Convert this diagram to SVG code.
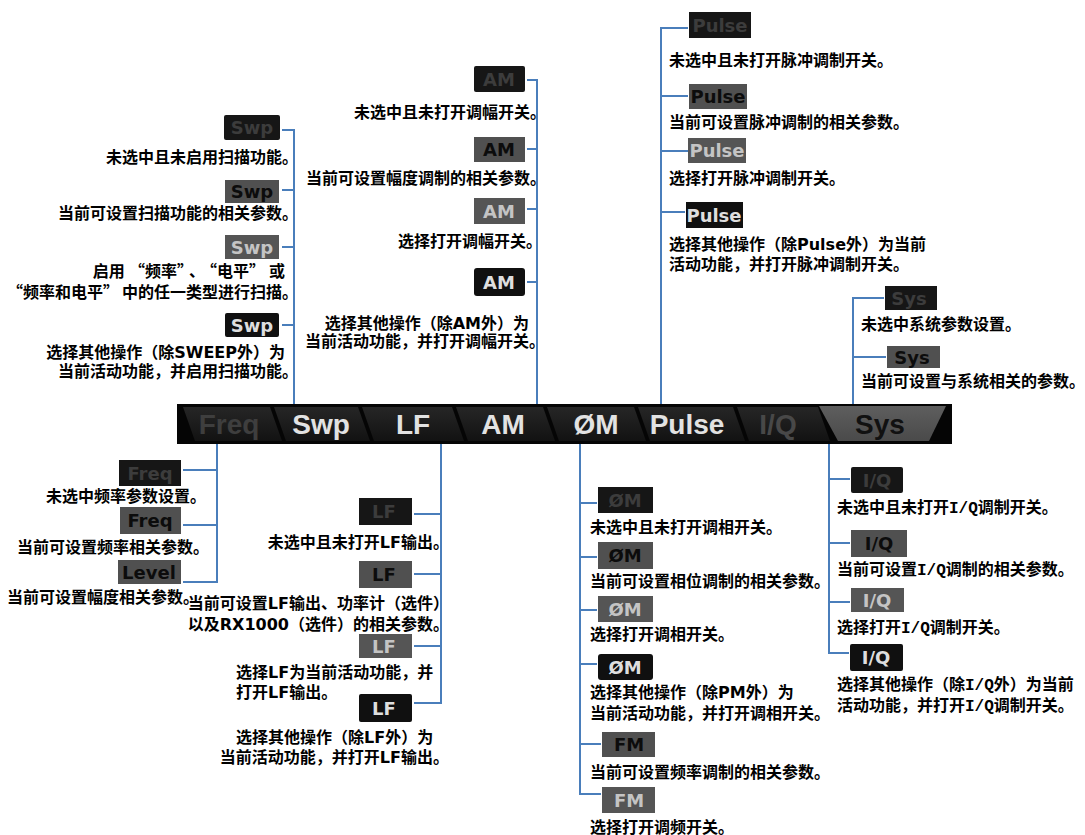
<svg xmlns="http://www.w3.org/2000/svg" width="1085" height="835" viewBox="0 0 1085 835">
<defs>
<linearGradient id="tabg" x1="0" y1="0" x2="0" y2="1">
<stop offset="0" stop-color="#262626"/><stop offset="1" stop-color="#121212"/>
</linearGradient>
<linearGradient id="sysg" x1="0" y1="0" x2="0" y2="1">
<stop offset="0" stop-color="#5e5e5e"/><stop offset="1" stop-color="#4a4a4a"/>
</linearGradient>
<style>
.ln{stroke:#4a7ebb;stroke-width:2;fill:none}
.t{font-family:"DejaVu Sans","Noto Sans CJK SC",sans-serif;font-weight:bold;font-size:16px;fill:#000}
.e{text-anchor:end}
.q{font-family:"Noto Sans CJK SC",sans-serif}
.m{font-family:"Liberation Mono","Noto Sans CJK SC",monospace}
.bl{font-family:"DejaVu Sans",sans-serif;font-weight:bold;font-size:18px;text-anchor:middle}
.r0{fill:#161616}.x0{fill:#3c3c3c}
.r1{fill:#505050}.x1{fill:#0c0c0c}
.r2{fill:#555555}.x2{fill:#c4c4c4}
.r3{fill:#101010}.x3{fill:#dedede}
.tab{fill:url(#tabg)}
.tl{font-family:"Liberation Sans",Arial,sans-serif;font-weight:bold;font-size:28px;text-anchor:middle}
</style>
</defs>
<rect width="1085" height="835" fill="#ffffff"/>

<g id="connectors">
<path class="ln" d="M282,130 H294 V404 M282,190 H294 M282,247 H294 M282,325 H294"/>
<path class="ln" d="M527,80 H537 V404 M527,149 H537 M527,209 H537 M527,282 H537"/>
<path class="ln" d="M688,28 H661 V404 M661,96 H688 M661,151 H688 M661,212 H685"/>
<path class="ln" d="M884,298 H853 V404 M853,357 H886"/>
<path class="ln" d="M217,444 V582 H183 M183,470 H217 M183,525 H217"/>
<path class="ln" d="M441,444 V703 H414 M414,514 H441 M414,574 H441 M414,646 H441"/>
<path class="ln" d="M580,444 V794 H601 M580,503 H597 M580,557 H597 M580,610 H597 M580,664 H597 M580,744 H601"/>
<path class="ln" d="M829,444 V653 H849 M829,479 H850 M829,543 H850 M829,602 H850"/>
</g>

<g id="menubar">
<rect x="177" y="404" width="775" height="40" fill="#050505"/>
<path class="tab" d="M183,407 H270 L282,441 H195 Z"/>
<path class="tab" d="M274,407 H358 L370,441 H286 Z"/>
<path class="tab" d="M362,407 H452 L464,441 H374 Z"/>
<path class="tab" d="M456,407 H543 L555,441 H468 Z"/>
<path class="tab" d="M547,407 H634 L646,441 H559 Z"/>
<path class="tab" d="M638,407 H733 L745,441 H650 Z"/>
<path class="tab" d="M737,407 H818 L830,441 H749 Z"/>
<path d="M819,406 H946 L929,441 H838 Z" fill="url(#sysg)"/>
<text class="tl" x="229" y="434" fill="#3e3e3e">Freq</text>
<text class="tl" x="321" y="434" fill="#e2e2e2">Swp</text>
<text class="tl" x="413" y="434" fill="#e2e2e2">LF</text>
<text class="tl" x="503" y="434" fill="#e2e2e2">AM</text>
<text class="tl" x="596" y="434" fill="#e2e2e2">ØM</text>
<text class="tl" x="687" y="434" fill="#e2e2e2">Pulse</text>
<text class="tl" x="778" y="434" fill="#484848">I/Q</text>
<text class="tl" x="880" y="434" fill="#111111">Sys</text>
</g>

<!-- Swp -->
<g id="swp-1"><rect class="r0" x="224" y="115" width="56" height="25" rx="2"/><text class="bl x0" x="252" y="134">Swp</text>
<text class="t e" x="298" y="163">未选中且未启用扫描功能。</text></g>
<g id="swp-2"><rect class="r1" x="225" y="180" width="54" height="23"/><text class="bl x1" x="252" y="198">Swp</text>
<text class="t e" x="298" y="219">当前可设置扫描功能的相关参数。</text></g>
<g id="swp-3"><rect class="r2" x="225" y="235" width="54" height="24"/><text class="bl x2" x="252" y="254">Swp</text>
<text class="t e" x="285" y="277">启用<tspan class="q" dx="4">“</tspan>频率<tspan class="q">”</tspan><tspan dx="4">、</tspan><tspan class="q" dx="4">“</tspan>电平<tspan class="q">”</tspan><tspan dx="4">或</tspan></text>
<text class="t e" x="298" y="298"><tspan class="q">“</tspan>频率和电平<tspan class="q">”</tspan><tspan dx="3">中的任一类型进行扫描。</tspan></text></g>
<g id="swp-4"><rect class="r3" x="225" y="313" width="54" height="24" rx="2"/><text class="bl x3" x="252" y="332">Swp</text>
<text class="t e" x="285" y="358">选择其他操作（除SWEEP外）为</text>
<text class="t e" x="298" y="377">当前活动功能，并启用扫描功能。</text></g>

<!-- AM -->
<g id="am-1"><rect class="r0" x="474" y="66" width="51" height="26" rx="2"/><text class="bl x0" x="499" y="86">AM</text>
<text class="t e" x="546" y="118">未选中且未打开调幅开关。</text></g>
<g id="am-2"><rect class="r1" x="474" y="137" width="51" height="25"/><text class="bl x1" x="499" y="156">AM</text>
<text class="t e" x="546" y="184">当前可设置幅度调制的相关参数。</text></g>
<g id="am-3"><rect class="r2" x="474" y="198" width="51" height="26"/><text class="bl x2" x="499" y="218">AM</text>
<text class="t e" x="542" y="247">选择打开调幅开关。</text></g>
<g id="am-4"><rect class="r3" x="474" y="268" width="51" height="28" rx="3"/><text class="bl x3" x="499" y="289">AM</text>
<text class="t e" x="529" y="329">选择其他操作（除AM外）为</text>
<text class="t e" x="545" y="347">当前活动功能，并打开调幅开关。</text></g>

<!-- Pulse -->
<g id="pulse-1"><rect class="r0" x="689" y="12" width="62" height="26"/><text class="bl x0" x="720" y="32">Pulse</text>
<text class="t" x="669" y="66">未选中且未打开脉冲调制开关。</text></g>
<g id="pulse-2"><rect class="r1" x="689" y="84" width="58" height="25"/><text class="bl x1" x="718" y="103">Pulse</text>
<text class="t" x="669" y="128">当前可设置脉冲调制的相关参数。</text></g>
<g id="pulse-3"><rect class="r2" x="688" y="138" width="58" height="25"/><text class="bl x2" x="717" y="157">Pulse</text>
<text class="t" x="669" y="184">选择打开脉冲调制开关。</text></g>
<g id="pulse-4"><rect class="r3" x="686" y="202" width="57" height="26"/><text class="bl x3" x="714" y="222">Pulse</text>
<text class="t" x="669" y="250">选择其他操作（除Pulse外）为当前</text>
<text class="t" x="669" y="270">活动功能，并打开脉冲调制开关。</text></g>

<!-- Sys -->
<g id="sys-1"><rect class="r0" x="885" y="286" width="52" height="24"/><text class="bl x0" x="909" y="305">Sys</text>
<text class="t" x="861" y="330">未选中系统参数设置。</text></g>
<g id="sys-2"><rect class="r1" x="887" y="346" width="53" height="22"/><text class="bl x1" x="912" y="364">Sys</text>
<text class="t" x="861" y="387">当前可设置与系统相关的参数。</text></g>

<!-- Freq -->
<g id="freq-1"><rect class="r0" x="119" y="460" width="62" height="26"/><text class="bl x0" x="150" y="480">Freq</text>
<text class="t e" x="206" y="502">未选中频率参数设置。</text></g>
<g id="freq-2"><rect class="r1" x="120" y="507" width="61" height="27"/><text class="bl x1" x="150" y="527">Freq</text>
<text class="t e" x="209" y="553">当前可设置频率相关参数。</text></g>
<g id="level"><rect class="r1" x="118" y="560" width="63" height="24"/><text class="bl x1" x="149" y="579">Level</text>
<text class="t e" x="199" y="603">当前可设置幅度相关参数。</text></g>

<!-- LF -->
<g id="lf-1"><rect class="r0" x="359" y="498" width="53" height="27"/><text class="bl x0" x="384" y="518">LF</text>
<text class="t e" x="449" y="548">未选中且未打开LF输出。</text></g>
<g id="lf-2"><rect class="r1" x="359" y="561" width="53" height="27"/><text class="bl x1" x="384" y="581">LF</text>
<text class="t e" x="449" y="609">当前可设置LF输出、功率计（选件）</text>
<text class="t e" x="449" y="630">以及RX1000（选件）的相关参数。</text></g>
<g id="lf-3"><rect class="r2" x="359" y="634" width="53" height="24"/><text class="bl x2" x="384" y="653">LF</text>
<text class="t" x="236" y="678">选择LF为当前活动功能，并</text>
<text class="t" x="236" y="698">打开LF输出。</text></g>
<g id="lf-4"><rect class="r3" x="359" y="694" width="53" height="28" rx="2"/><text class="bl x3" x="384" y="715">LF</text>
<text class="t" x="236" y="743">选择其他操作（除LF外）为</text>
<text class="t e" x="449" y="763">当前活动功能，并打开LF输出。</text></g>

<!-- PM / FM -->
<g id="pm-1"><rect class="r0" x="598" y="487" width="55" height="26"/><text class="bl x0" x="625" y="507">ØM</text>
<text class="t" x="590" y="533">未选中且未打开调相开关。</text></g>
<g id="pm-2"><rect class="r1" x="598" y="542" width="55" height="27"/><text class="bl x1" x="625" y="562">ØM</text>
<text class="t" x="590" y="587">当前可设置相位调制的相关参数。</text></g>
<g id="pm-3"><rect class="r2" x="598" y="596" width="55" height="26"/><text class="bl x2" x="625" y="616">ØM</text>
<text class="t" x="590" y="640">选择打开调相开关。</text></g>
<g id="pm-4"><rect class="r3" x="598" y="654" width="55" height="26" rx="3"/><text class="bl x3" x="625" y="674">ØM</text>
<text class="t" x="590" y="698">选择其他操作（除PM外）为</text>
<text class="t" x="590" y="719">当前活动功能，并打开调相开关。</text></g>
<g id="fm-1"><rect class="r1" x="602" y="732" width="53" height="25"/><text class="bl x1" x="629" y="751">FM</text>
<text class="t" x="590" y="778">当前可设置频率调制的相关参数。</text></g>
<g id="fm-2"><rect class="r2" x="602" y="787" width="53" height="26"/><text class="bl x2" x="629" y="807">FM</text>
<text class="t" x="590" y="833">选择打开调频开关。</text></g>

<!-- I/Q -->
<g id="iq-1"><rect class="r0" x="851" y="467" width="52" height="26" rx="2"/><text class="bl x0" x="877" y="487">I/Q</text>
<text class="t" x="837" y="513">未选中且未打开<tspan class="m">I/Q</tspan>调制开关。</text></g>
<g id="iq-2"><rect class="r1" x="851" y="530" width="56" height="27"/><text class="bl x1" x="879" y="550">I/Q</text>
<text class="t" x="837" y="575">当前可设置<tspan class="m">I/Q</tspan>调制的相关参数。</text></g>
<g id="iq-3"><rect class="r2" x="851" y="588" width="53" height="24"/><text class="bl x2" x="877" y="607">I/Q</text>
<text class="t" x="837" y="633">选择打开<tspan class="m">I/Q</tspan>调制开关。</text></g>
<g id="iq-4"><rect class="r3" x="850" y="644" width="53" height="27" rx="2"/><text class="bl x3" x="876" y="664">I/Q</text>
<text class="t" x="837" y="690">选择其他操作（除<tspan class="m">I/Q</tspan>外）为当前</text>
<text class="t" x="837" y="711">活动功能，并打开<tspan class="m">I/Q</tspan>调制开关。</text></g>
</svg>
